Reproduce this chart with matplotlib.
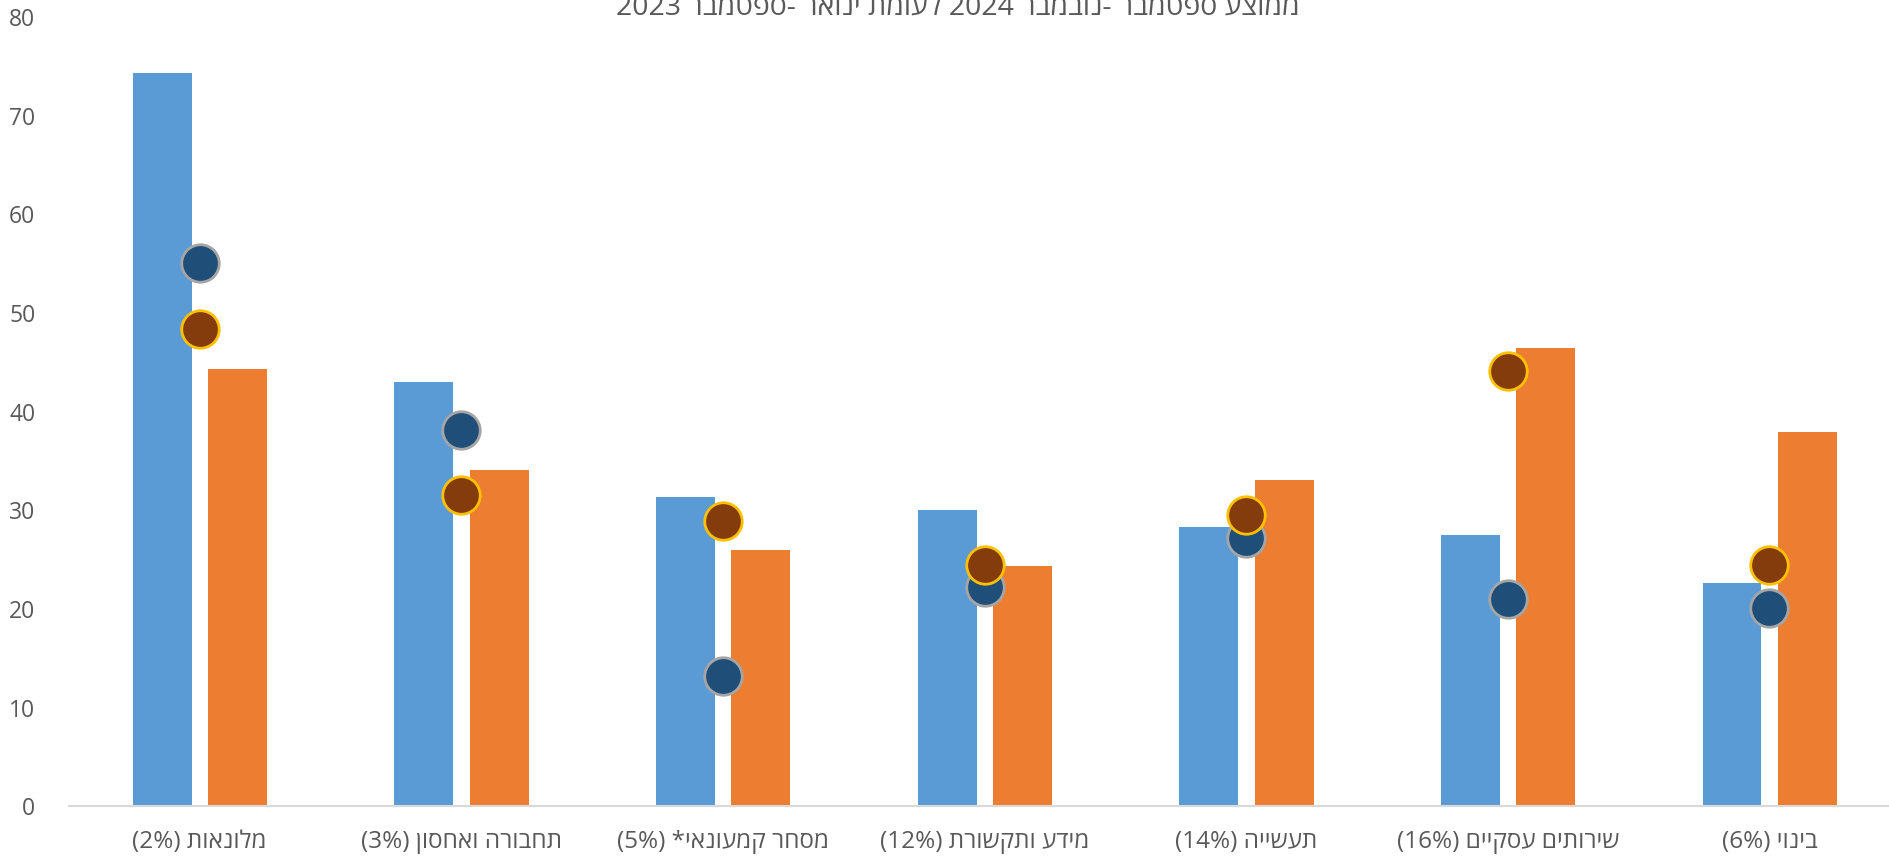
import re

import matplotlib
matplotlib.use("Agg")
import matplotlib.pyplot as plt
import numpy as np

# Sector labels (logical Hebrew order) and values
categories = [
    "מלונאות (2%)",
    "תחבורה ואחסון (3%)",
    "מסחר קמעונאי* (5%)",
    "מידע ותקשורת (12%)",
    "תעשייה (14%)",
    "שירותים עסקיים (16%)",
    "בינוי (6%)",
]
bar_blue = [74.3, 43.0, 31.4, 30.0, 28.3, 27.5, 22.6]
bar_orange = [44.3, 34.1, 26.0, 24.4, 33.1, 46.5, 37.9]
dot_navy = [55.1, 38.1, 13.2, 22.2, 27.2, 21.0, 20.1]
dot_brown = [48.4, 31.6, 28.9, 24.5, 29.5, 44.1, 24.5]
y_ticks = [0, 10, 20, 30, 40, 50, 60, 70, 80]
title = "ממוצע ספטמבר -נובמבר 2024 לעומת ינואר -ספטמבר 2023"

TEXT = "#595959"


def visual(s: str) -> str:
    """Very small bidi: reverse RTL text, keep numbers left-to-right."""
    r = s[::-1].translate(str.maketrans("()", ")("))
    return re.sub(r"[0-9%]+", lambda m: m.group(0)[::-1], r)


plt.rcParams["font.family"] = ["Open Sans", "Liberation Sans", "DejaVu Sans"]

fig = plt.figure(figsize=(18.9, 8.59), dpi=100)
ax = fig.add_axes([0.0364, 0.0612, 0.969, 0.9191])

x = np.arange(len(categories))
w = 0.225
ax.bar(x - 0.143, bar_blue, width=w, color="#5B9BD5", zorder=2)
ax.bar(x + 0.145, bar_orange, width=w, color="#ED7D31", zorder=2)
ax.plot(x, dot_navy, "o", ms=27, color="#1F4E79", mec="#A5A5A5", mew=2, zorder=3)
ax.plot(x, dot_brown, "o", ms=27, color="#843C0C", mec="#FFC000", mew=2, zorder=4)

ax.set_xlim(-0.5, len(categories) - 0.5)
ax.set_ylim(0, 80)
ax.set_yticks(y_ticks)
ax.set_xticks(x)
ax.set_xticklabels([visual(c) for c in categories], fontsize=17.5)
ax.tick_params(axis="both", length=0, colors=TEXT)
ax.tick_params(axis="y", labelsize=16.5, pad=24)
ax.tick_params(axis="x", pad=17)

for side in ("top", "right", "left"):
    ax.spines[side].set_visible(False)
ax.spines["bottom"].set_color("#D9D9D9")
ax.spines["bottom"].set_linewidth(1.5)

# the reference crops the title at the top edge
fig.text(0.507, 1.007, visual(title), ha="center", va="top", fontsize=20.5, color=TEXT)

fig.savefig("out.png", dpi=100)
